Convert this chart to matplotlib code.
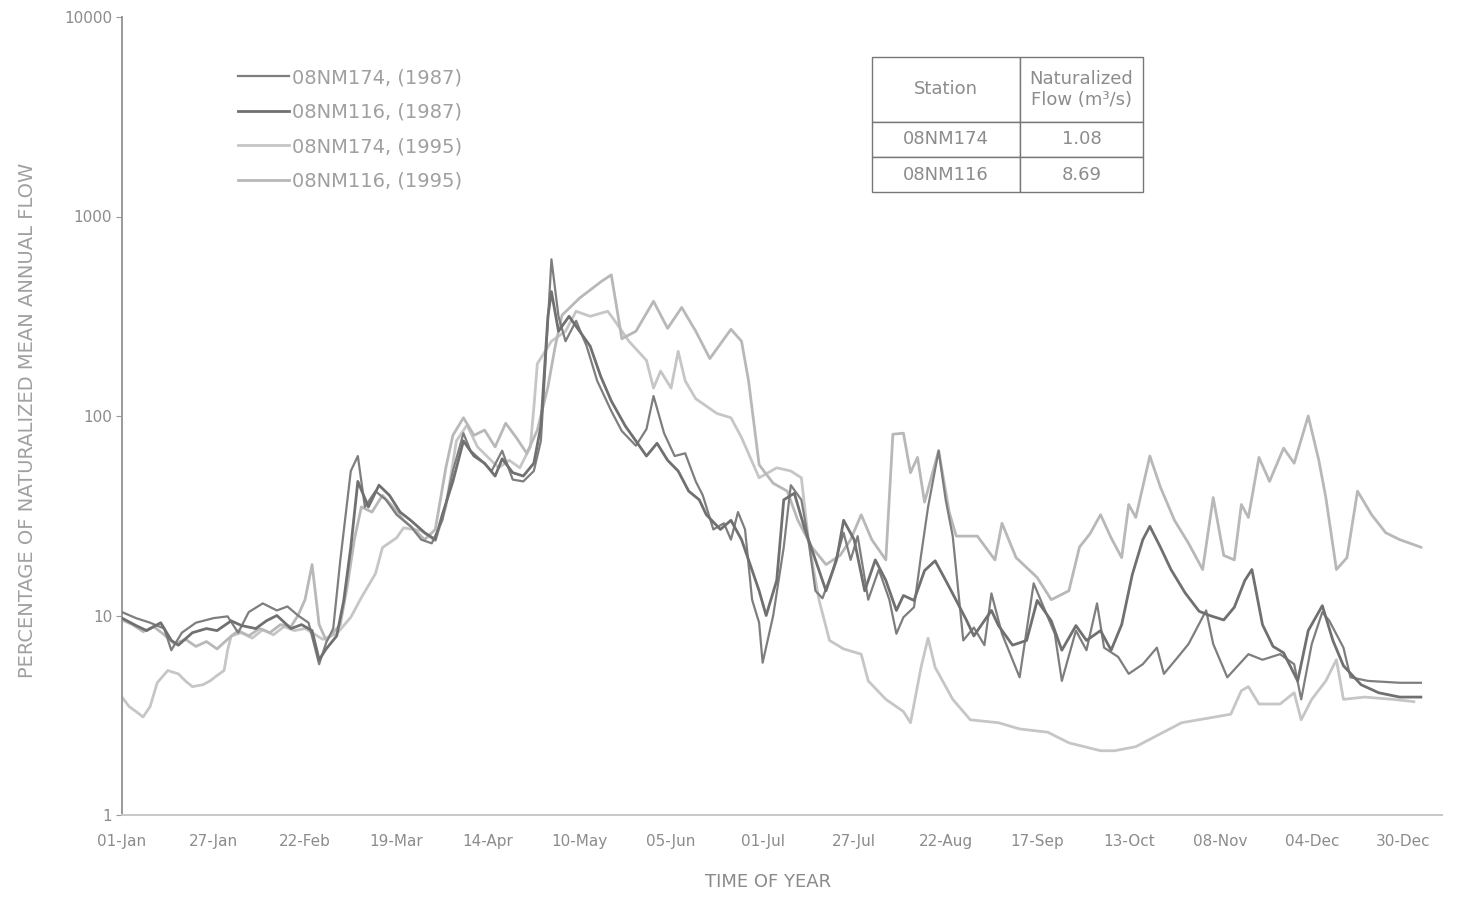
import matplotlib
matplotlib.use("Agg")
import matplotlib.pyplot as plt

# daily flow as percentage of naturalized mean annual flow
# (day of year, percent)
nm174_87 = [(0, 10.4), (4, 9.7), (8, 9.2), (12, 8.6), (14, 6.7), (17, 8.2), (21, 9.2), (26, 9.7), (30, 9.9), (33, 8.2),
            (36, 10.4), (40, 11.5), (44, 10.6), (47, 11.1), (50, 10), (53, 9.2), (56, 5.7), (58, 7.3), (60, 8.6), (62, 18.8),
            (65, 53), (67, 63), (69, 35), (72, 42), (75, 38), (78, 32), (82, 28), (85, 24), (88, 23), (91, 30),
            (94, 53), (97, 82), (99, 67), (102, 60), (105, 53), (108, 67), (111, 48), (114, 47), (117, 53), (119, 75),
            (121, 300), (122, 610), (124, 316), (126, 237), (129, 300), (132, 224), (135, 150), (139, 106), (142, 84), (146, 71),
            (149, 86), (151, 126), (154, 82), (157, 63), (160, 65), (163, 47), (165, 40), (168, 27), (171, 29), (173, 24),
            (175, 33), (177, 27), (179, 12), (181, 9.2), (182, 5.8), (185, 10), (188, 22), (190, 45), (193, 38), (195, 24),
            (197, 13.3), (199, 12.2), (202, 17), (205, 26), (207, 19), (209, 25), (212, 12), (215, 17), (218, 12), (220, 8.1),
            (222, 9.8), (225, 11), (227, 20), (229, 35), (232, 67), (234, 38), (236, 25), (239, 7.5), (242, 8.7), (245, 7.1),
            (247, 12.9), (250, 8.1), (255, 4.9), (259, 14.5), (265, 8.1), (267, 4.7), (271, 8.4), (274, 6.7), (277, 11.5), (279, 6.9),
            (283, 6.2), (286, 5.1), (290, 5.7), (294, 6.9), (296, 5.1), (300, 6.2), (303, 7.2), (308, 10.6), (310, 7.2), (314, 4.9),
            (320, 6.4), (324, 6), (329, 6.4), (333, 5.7), (335, 3.8), (338, 7.2), (341, 10.4), (343, 9.4), (347, 6.9), (349, 4.9),
            (354, 4.7), (363, 4.6), (369, 4.6)]

nm116_87 = [(0, 9.7), (4, 8.9), (7, 8.4), (11, 9.2), (14, 7.5), (16, 7.1), (20, 8.2), (24, 8.6), (27, 8.4), (31, 9.4),
            (34, 8.9), (38, 8.6), (41, 9.4), (44, 10), (48, 8.6), (51, 9.0), (54, 8.4), (56, 6.0), (58, 6.8), (61, 7.9),
            (63, 11.9), (65, 22), (67, 47), (70, 35), (73, 45), (76, 40), (79, 33), (82, 30), (86, 26), (89, 24),
            (91, 32), (94, 47), (97, 75), (100, 63), (103, 58), (106, 50), (108, 61), (111, 52), (114, 50), (117, 58),
            (119, 89), (121, 316), (122, 420), (124, 266), (127, 316), (130, 266), (133, 224), (136, 158), (139, 119), (143, 89),
            (146, 75), (149, 63), (152, 73), (155, 60), (158, 53), (161, 42), (164, 38), (166, 32), (170, 27), (173, 30),
            (176, 24), (178, 19), (181, 13.3), (183, 10), (186, 15), (188, 38), (191, 41), (194, 27), (197, 19), (200, 13.3),
            (203, 19), (205, 30), (208, 24), (211, 13.3), (214, 19), (217, 15), (220, 10.6), (222, 12.6), (225, 11.9), (228, 16.8),
            (231, 18.8), (234, 15), (237, 11.9), (240, 9.4), (242, 7.9), (247, 10.6), (249, 8.9), (253, 7.1), (257, 7.5), (260, 11.9),
            (264, 9.4), (267, 6.7), (271, 8.9), (274, 7.5), (278, 8.4), (281, 6.7), (284, 9), (287, 16), (290, 24), (292, 28),
            (295, 22), (298, 17), (302, 13), (306, 10.5), (309, 10), (313, 9.5), (316, 11), (319, 15), (321, 17), (324, 9),
            (327, 7), (330, 6.5), (334, 4.7), (337, 8.4), (341, 11.2), (344, 7.5), (347, 5.6), (352, 4.5), (357, 4.1), (363, 3.9),
            (369, 3.9)]

nm174_95 = [(0, 3.9), (2, 3.5), (4, 3.3), (6, 3.1), (8, 3.5), (10, 4.6), (13, 5.3), (16, 5.1), (18, 4.7), (20, 4.4),
            (23, 4.5), (25, 4.7), (27, 5.0), (29, 5.3), (30, 6.7), (31, 7.9), (34, 8.2), (37, 7.7), (40, 8.5), (43, 8.0),
            (46, 8.8), (49, 8.4), (52, 8.6), (55, 8.0), (57, 7.6), (61, 8.1), (65, 9.8), (68, 12.3), (72, 16.2), (74, 21.9),
            (78, 24.5), (80, 27.5), (85, 26.6), (89, 23.7), (92, 35), (95, 75), (98, 90), (101, 70), (104, 62), (107, 55),
            (110, 60), (113, 55), (116, 70), (117, 110), (118, 183), (122, 237), (126, 266), (129, 335), (133, 316), (138, 335),
            (140, 300), (144, 237), (149, 190), (151, 138), (153, 168), (156, 138), (158, 211), (160, 150), (163, 122), (169, 103),
            (173, 98), (176, 78), (181, 49), (186, 55), (190, 53), (193, 49), (195, 24), (198, 12), (201, 7.5), (205, 6.8),
            (210, 6.4), (212, 4.7), (217, 3.8), (222, 3.3), (224, 2.9), (227, 5.5), (229, 7.7), (231, 5.5), (236, 3.8), (241, 3.0),
            (249, 2.9), (255, 2.7), (263, 2.6), (269, 2.3), (278, 2.1), (282, 2.1), (288, 2.2), (301, 2.9), (315, 3.2), (318, 4.2),
            (320, 4.4), (323, 3.6), (329, 3.6), (333, 4.1), (335, 3.0), (338, 3.8), (342, 4.7), (345, 6.0), (347, 3.8), (353, 3.9),
            (361, 3.8), (367, 3.7)]

nm116_95 = [(0, 9.5), (3, 9.0), (6, 8.3), (9, 8.8), (12, 8.0), (15, 7.2), (18, 7.6), (21, 7.0), (24, 7.4), (27, 6.8),
            (30, 7.6), (33, 8.4), (36, 7.9), (39, 8.6), (42, 8.2), (45, 9.0), (48, 8.8), (50, 10), (52, 12), (54, 18),
            (56, 9), (58, 7.5), (60, 8.2), (62, 9), (64, 14), (66, 24), (68, 35), (71, 33), (74, 40), (77, 35),
            (80, 30), (83, 27), (86, 24), (89, 27), (92, 55), (94, 80), (97, 98), (100, 80), (103, 85), (106, 70),
            (109, 92), (112, 78), (115, 65), (118, 85), (121, 140), (123, 220), (125, 320), (130, 390), (136, 470), (139, 510),
            (142, 244), (146, 266), (151, 376), (155, 275), (159, 350), (163, 266), (167, 194), (173, 272), (176, 237), (178, 150),
            (181, 57), (185, 46), (189, 42), (192, 30), (196, 22), (200, 18), (204, 20), (207, 24), (210, 32), (213, 24),
            (217, 19), (219, 81), (222, 82), (224, 52), (226, 62), (228, 37), (232, 67), (235, 33), (237, 25), (243, 25),
            (248, 19), (250, 29), (254, 19.5), (260, 15.5), (264, 12), (269, 13.3), (272, 22), (275, 25.7), (278, 32), (281, 24.5),
            (284, 19.5), (286, 36), (288, 31), (292, 63), (295, 44), (299, 30), (303, 23), (307, 17), (310, 39), (313, 20),
            (316, 19), (318, 36), (320, 31), (323, 62), (326, 47), (330, 69), (333, 58), (337, 100), (340, 60), (342, 39),
            (345, 17), (348, 19.5), (351, 42), (355, 32), (359, 26), (363, 24), (369, 22)]

tick_days = [0, 26, 52, 78, 104, 130, 156, 182, 208, 234, 260, 286, 312, 338, 364]
tick_labels = ["01-Jan", "27-Jan", "22-Feb", "19-Mar", "14-Apr", "10-May", "05-Jun", "01-Jul",
               "27-Jul", "22-Aug", "17-Sep", "13-Oct", "08-Nov", "04-Dec", "30-Dec"]

table_header = ["Station", "Naturalized\nFlow (m\u00b3/s)"]
table_rows = [["08NM174", "1.08"], ["08NM116", "8.69"]]

txt = "#8c8c8c"
plt.rcParams['font.family'] = ['DejaVu Sans']

fig = plt.figure(figsize=(14.59, 8.98), dpi=100)
ax = fig.add_axes([122/1459, 83/898, 1320/1459, 798/898])

# light series first, darker 1987 series on top
ax.plot(*zip(*nm174_95), color="#c6c6c6", lw=2.0, label="08NM174, (1995)", zorder=2)
ax.plot(*zip(*nm116_95), color="#b8b8b8", lw=2.0, label="08NM116, (1995)", zorder=2)
ax.plot(*zip(*nm174_87), color="#7e7e7e", lw=1.6, label="08NM174, (1987)", zorder=3)
ax.plot(*zip(*nm116_87), color="#707070", lw=2.0, label="08NM116, (1987)", zorder=3)

ax.set_yscale("log")
ax.set_ylim(1, 10000)
ax.set_xlim(0, 375)
ax.set_yticks([1, 10, 100, 1000, 10000])
ax.set_yticklabels(["1", "10", "100", "1000", "10000"])
ax.minorticks_off()
ax.set_xticks(tick_days)
ax.set_xticklabels(tick_labels)
ax.tick_params(axis="x", length=0, pad=14, labelsize=11, labelcolor=txt)
ax.tick_params(axis="y", length=4, color="#999999", pad=3, labelsize=11, labelcolor=txt)

for s in ["top", "right"]:
    ax.spines[s].set_visible(False)
ax.spines["left"].set_color("#9a9a9a")
ax.spines["left"].set_linewidth(1.4)
ax.spines["bottom"].set_color("#c8c8c8")
ax.spines["bottom"].set_linewidth(1.4)

fig.text(28/1459, 1 - 420/898, "PERCENTAGE OF NATURALIZED MEAN ANNUAL FLOW", rotation=90,
         ha="center", va="center", fontsize=14, color="#a0a0a0")
fig.text(768/1459, 1 - 882/898, "TIME OF YEAR", ha="center", va="center", fontsize=13, color="#8a8a8a")

h, l = ax.get_legend_handles_labels()
order = [2, 3, 0, 1]
leg = ax.legend([h[i] for i in order], [l[i] for i in order], loc="upper left",
                bbox_to_anchor=(238/1459, 1 - 68/898), bbox_transform=fig.transFigure,
                frameon=False, fontsize=14, handlelength=2.6, handletextpad=0.2,
                labelspacing=0.8, borderpad=0, borderaxespad=0)
for t in leg.get_texts():
    t.set_color("#a0a0a0")

# flow table, top right
tax = fig.add_axes([872/1459, 1 - 192/898, 271/1459, 135/898])
tax.axis("off")
tbl = tax.table(cellText=table_rows, colLabels=table_header, cellLoc="center",
                colWidths=[148/271, 123/271], bbox=[0, 0, 1, 1])
tbl.auto_set_font_size(False)
for (r, c), cell in tbl.get_celld().items():
    cell.set_edgecolor("#777777")
    cell.set_linewidth(1.0)
    cell.get_text().set_color("#8c8c8c")
    cell.get_text().set_fontsize(13)
    cell.set_height(65/135 if r == 0 else 35/135)

fig.savefig("out.png", dpi=100, facecolor="white")
